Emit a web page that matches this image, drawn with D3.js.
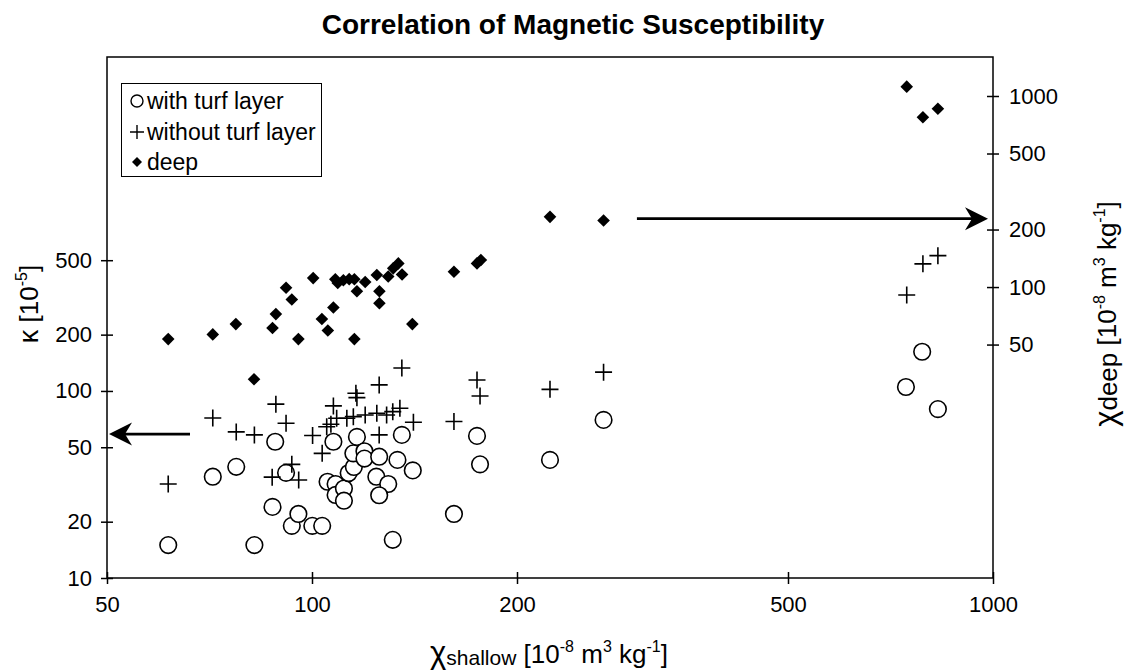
<!DOCTYPE html>
<html>
<head>
<meta charset="utf-8">
<script src="https://cdn.jsdelivr.net/npm/d3@7"></script>
<style>
  body { margin: 0; background: #fff; }
  svg { display: block; font-family: "Liberation Sans", Arial, sans-serif; }
</style>
</head>
<body>
<div id="chart"></div>
<script>
// Tick values
const xTicks = [50, 100, 200, 500, 1000];
const kappaTicks = [10, 20, 50, 100, 200, 500];
const deepTicks = [50, 100, 200, 500, 1000];

// "with turf layer" (circles): chi_shallow vs kappa
const turfX = [61.5, 71.5, 77.4, 82.3, 87.5, 88.3, 91.6, 93.4, 95.5, 100.1, 103.5, 105.4, 107.5, 108.3, 108.3,
  111.4, 111.4, 113.2, 115.2, 116.4, 115, 119.4, 119.4, 125.5, 124.3, 129.4, 125.5, 133.5, 135.5, 140.6,
  131.4, 161.6, 174.7, 176.5, 223.6, 268, 787, 745, 830];
const turfK = [15.0, 34.8, 39.3, 15.0, 24.0, 53.5, 36.5, 19.0, 22.0, 19.0, 19.0, 32.7, 53.5, 31.8, 27.8,
  30.1, 25.9, 36.4, 39.2, 56.8, 46.4, 47.6, 43.5, 44.5, 34.8, 31.8, 27.7, 42.8, 58.2, 37.6,
  16.0, 22.0, 57.5, 40.5, 42.8, 70, 162, 105, 80];

// "without turf layer" (crosses): chi_shallow vs kappa
const noTurfX = [61.5, 71.5, 77.4, 82.3, 88.5, 91.6, 87.4, 93.4, 95.6, 100.2, 103.5, 107.5, 105.1, 108.7, 112.5,
  115, 116, 116.4, 119.7, 124.5, 128.7, 131.4, 134.6, 140.9, 125.5, 125.5, 135.5, 161.6, 174.7, 176.5,
  223.6, 268, 747, 789, 830, 106.6];
const noTurfK = [31.8, 71.7, 60.4, 58.2, 85, 67.2, 34.6, 40.5, 33.4, 57.8, 46.4, 83.2, 64.4, 71.5, 71.5,
  72.9, 97.2, 92.1, 74.4, 76, 74.4, 77.5, 80.8, 68, 58.2, 107.7, 132.7, 68.6, 114.5, 94,
  102, 126, 326, 478, 529, 66.4];

// "deep" (diamonds): chi_shallow vs chi_deep (right axis)
const deepX = [61.5, 71.5, 77.3, 87.5, 88.5, 91.6, 93.4, 95.5, 100.4, 103.4, 105.5, 107.5, 108.2, 109.1, 111.2,
  113.4, 115.4, 115.4, 116.4, 119.7, 124.5, 125.6, 125.6, 129.4, 131.6, 133.9, 135.6, 140.4, 161.6, 174.7,
  177, 223.6, 268, 747, 789, 830, 82.2];
const deepY = [53.4, 56.5, 64, 61, 72.2, 99.2, 86, 53.4, 111.4, 68, 59.2, 78.1, 109.8, 105, 108.5,
  110, 109.8, 53.4, 95, 106.3, 115.6, 95, 82.2, 113.5, 125.3, 133, 116.3, 64, 120.3, 133,
  138.5, 233, 223, 1119, 774, 858, 32.9];

const legendLabels = ["with turf layer", "without turf layer", "deep"];

const W = 1125, H = 671;
const m = { top: 57, right: 132, bottom: 93, left: 107 };

const x = d3.scaleLog([50, 1000], [m.left, W - m.right]);
const yL = d3.scaleLog([10, 6100], [H - m.bottom, m.top]);
const yR = d3.scaleLog([3, 1600], [H - m.bottom, m.top]);

const svg = d3.select("#chart").append("svg")
  .attr("width", W).attr("height", H);

// Title
svg.append("text")
  .attr("x", 573).attr("y", 34).attr("text-anchor", "middle")
  .attr("font-weight", "bold").attr("font-size", 28)
  .text("Correlation of Magnetic Susceptibility");

// Plot frame
svg.append("rect")
  .attr("x", m.left).attr("y", m.top)
  .attr("width", W - m.right - m.left).attr("height", H - m.bottom - m.top)
  .attr("fill", "none").attr("stroke", "#000").attr("stroke-width", 1.5);

function crossTicks(g, vertical) {
  g.select(".domain").remove();
  g.selectAll(".tick line").attr("stroke-width", 1.5);
  if (vertical) g.selectAll(".tick line").attr("x1", -6).attr("x2", 6);
  else g.selectAll(".tick line").attr("y1", -6).attr("y2", 6);
  g.selectAll(".tick text").attr("font-size", 22).attr("fill", "#000")
    .attr("font-family", "'Liberation Sans', Arial, sans-serif");
}

svg.append("g").attr("transform", `translate(0,${H - m.bottom})`)
  .call(d3.axisBottom(x).tickValues(xTicks).tickFormat(d3.format("d"))
    .tickSizeInner(6).tickSizeOuter(0).tickPadding(12))
  .call(g => crossTicks(g, false));

svg.append("g").attr("transform", `translate(${m.left},0)`)
  .call(d3.axisLeft(yL).tickValues(kappaTicks).tickFormat(d3.format("d"))
    .tickSizeInner(6).tickSizeOuter(0).tickPadding(9))
  .call(g => crossTicks(g, true));

svg.append("g").attr("transform", `translate(${W - m.right},0)`)
  .call(d3.axisRight(yR).tickValues(deepTicks).tickFormat(d3.format("d"))
    .tickSizeInner(6).tickSizeOuter(0).tickPadding(10))
  .call(g => crossTicks(g, true));

// Markers
svg.append("g").selectAll("circle").data(d3.range(turfX.length)).join("circle")
  .attr("cx", i => x(turfX[i])).attr("cy", i => yL(turfK[i])).attr("r", 8.3)
  .attr("fill", "#fff").attr("stroke", "#000").attr("stroke-width", 1.6);

const crossPath = "M-8.5,0H8.5M0,-8.5V8.5";
svg.append("g").selectAll("path").data(d3.range(noTurfX.length)).join("path")
  .attr("transform", i => `translate(${x(noTurfX[i])},${yL(noTurfK[i])})`)
  .attr("d", crossPath).attr("fill", "none").attr("stroke", "#000").attr("stroke-width", 1.6);

const diamondPath = "M0,-6.3L6.3,0L0,6.3L-6.3,0Z";
svg.append("g").selectAll("path").data(d3.range(deepX.length)).join("path")
  .attr("transform", i => `translate(${x(deepX[i])},${yR(deepY[i])})`)
  .attr("d", diamondPath).attr("fill", "#000");

// Arrows pointing to the relevant axis
function arrow(x0, x1, yy) {
  const dir = Math.sign(x1 - x0);
  const hl = 23, hw = 11.5, notch = 16;
  svg.append("line")
    .attr("x1", x0).attr("x2", x1 - dir * notch).attr("y1", yy).attr("y2", yy)
    .attr("stroke", "#000").attr("stroke-width", 2.6);
  svg.append("path")
    .attr("d", `M${x1},${yy}L${x1 - dir * hl},${yy - hw}L${x1 - dir * notch},${yy}L${x1 - dir * hl},${yy + hw}Z`)
    .attr("fill", "#000");
}
arrow(x(66.2), x(50) + 2, yL(58.8));
arrow(x(300), x(1000) - 5, yR(228));

// Legend
const lg = svg.append("g");
lg.append("rect").attr("x", 121.5).attr("y", 83.5).attr("width", 200).attr("height", 93)
  .attr("fill", "#fff").attr("stroke", "#000").attr("stroke-width", 1);
const legY = [101, 132, 162];
lg.append("circle").attr("cx", 137).attr("cy", legY[0]).attr("r", 6)
  .attr("fill", "#fff").attr("stroke", "#000").attr("stroke-width", 1.4);
lg.append("path").attr("transform", `translate(137,${legY[1]})`).attr("d", "M-7,0H7M0,-7V7")
  .attr("stroke", "#000").attr("stroke-width", 1.4);
lg.append("path").attr("transform", `translate(137,${legY[2]})`).attr("d", "M0,-5L5,0L0,5L-5,0Z")
  .attr("fill", "#000");
lg.selectAll("text").data(legendLabels).join("text")
  .attr("x", 147).attr("y", (d, i) => legY[i] + 8).attr("font-size", 23).text(d => d);

// Axis titles
const xt = svg.append("text").attr("x", 549).attr("y", 663).attr("text-anchor", "middle").attr("font-size", 26);
xt.append("tspan").attr("font-size", 31).text("χ");
xt.append("tspan").attr("font-size", 21).attr("dy", 2).text("shallow");
xt.append("tspan").attr("dy", -2).text(" [10");
xt.append("tspan").attr("font-size", 16).attr("dy", -11).text("-8");
xt.append("tspan").attr("dy", 11).text(" m");
xt.append("tspan").attr("font-size", 16).attr("dy", -11).text("3");
xt.append("tspan").attr("dy", 11).text(" kg");
xt.append("tspan").attr("font-size", 16).attr("dy", -11).text("-1");
xt.append("tspan").attr("dy", 11).text("]");

const lt = svg.append("text").attr("text-anchor", "middle").attr("font-size", 26)
  .attr("transform", "translate(38,304) rotate(-90)");
lt.append("tspan").attr("font-size", 27).text("κ");
lt.append("tspan").text(" [10");
lt.append("tspan").attr("font-size", 16).attr("dy", -11).text("-5");
lt.append("tspan").attr("dy", 11).text("]");

const rt = svg.append("text").attr("text-anchor", "middle").attr("font-size", 26)
  .attr("transform", "translate(1116,314) rotate(-90)");
rt.append("tspan").attr("font-size", 31).text("χ");
rt.append("tspan").attr("dy", 1).text("deep");
rt.append("tspan").attr("dy", -1).text(" [10");
rt.append("tspan").attr("font-size", 16).attr("dy", -11).text("-8");
rt.append("tspan").attr("dy", 11).text(" m");
rt.append("tspan").attr("font-size", 16).attr("dy", -11).text("3");
rt.append("tspan").attr("dy", 11).text(" kg");
rt.append("tspan").attr("font-size", 16).attr("dy", -11).text("-1");
rt.append("tspan").attr("dy", 11).text("]");
</script>
</body>
</html>
